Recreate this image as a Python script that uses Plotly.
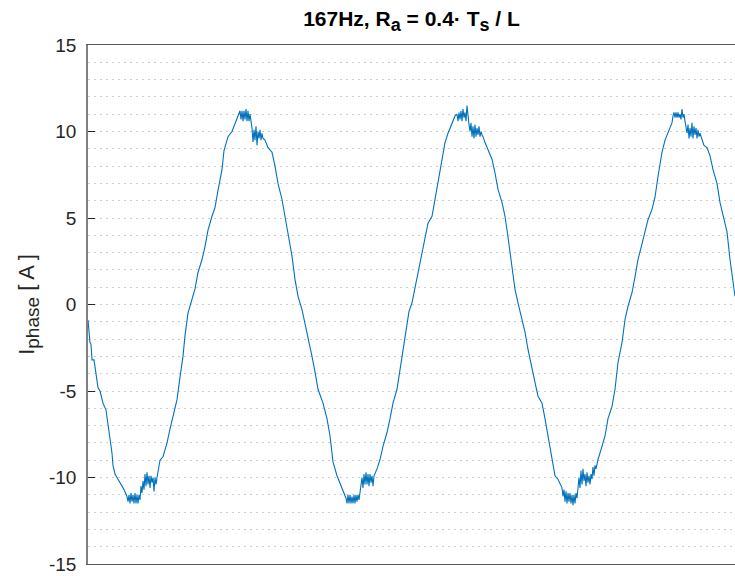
import plotly.graph_objects as go

# Phase current trace, sample index vs. current in amperes
t_samples = [
    0, 1, 2, 3, 4, 6, 8, 10, 12, 15, 18, 20, 22, 24, 25, 27, 30, 33, 36, 39,
    40, 41, 42, 43, 44, 45, 46, 47, 48, 49, 50, 51, 52, 53, 54,
    55, 56, 57, 58, 59, 60, 61, 62, 63, 64, 65, 66, 67, 68, 69,
    72, 75, 79, 82, 85, 89, 92, 95, 97, 100, 103, 107, 110, 114, 117, 120,
    124, 127, 130, 134, 136, 140, 144, 147, 150,
    152, 153, 154, 155, 156, 157, 158, 159, 160, 161, 162,
    163, 164, 165, 166, 167, 168, 169, 170, 171, 172, 173, 174, 175,
    177, 180, 184, 187, 190, 194, 197, 200, 204, 207, 210, 214, 217, 220,
    224, 227, 230, 235, 239, 242, 245, 249, 252, 255,
    258, 259, 260, 261, 262, 263, 264, 265, 266, 267, 268, 269, 270, 271, 272,
    273, 274, 275, 276, 277, 278, 279, 280, 281, 282, 283, 284, 285, 286,
    289, 292, 295, 299, 302, 305, 309, 311, 314, 316, 319, 321, 324, 327,
    330, 334, 337, 340, 344, 347, 350, 354, 357, 360, 364, 367,
    369, 370, 371, 372, 373, 374, 375, 376, 377, 378, 379, 380,
    381, 382, 383, 384, 385, 386, 387, 388, 389, 390, 391, 392, 393, 394, 395,
    397, 400, 404, 407, 410, 414, 417, 420, 424, 427, 430, 434, 437, 440,
    444, 447, 450, 454, 457, 460, 464, 467, 470, 474,
    475, 476, 477, 478, 479, 480, 481, 482, 483, 484, 485, 486, 487, 488, 489,
    490, 491, 492, 493, 494, 495, 496, 497, 498, 499, 500, 501, 502, 503, 504,
    505, 506, 507, 508,
    510, 514, 517, 520, 524, 527, 530, 534, 537, 540, 544, 547, 550, 554,
    557, 560, 564, 567, 570, 574, 577, 580, 584,
    585, 586, 587, 588, 589, 590, 591, 592, 593, 594, 595, 596, 597,
    598, 599, 600, 601, 602, 603, 604, 605, 606, 607, 608, 609, 610, 611, 612,
    614, 616,
    619, 622, 625, 629, 632, 635, 639, 642, 645, 647,
]

i_phase = [
    -0.9, -1.7, -2.2, -2.3, -3.2, -3.2, -3.9, -4.8, -5.0, -5.7, -6.1, -6.9, -7.8, -8.6, -9.3, -9.8, -10.1, -10.4, -10.7, -11.1,
    -11.4, -11.0, -11.5, -10.9, -11.4, -11.0, -11.5, -10.9, -11.5, -11.0, -11.5, -11.0, -11.3, -10.5, -10.9,
    -10.2, -10.7, -9.8, -10.5, -9.7, -10.4, -9.9, -10.6, -9.9, -10.3, -10.0, -10.8, -10.0, -10.4, -10.0,
    -9.0, -8.8, -8.0, -7.2, -6.4, -5.5, -4.2, -3.0, -1.8, -0.5, 0.1, 0.9, 1.85, 2.6, 3.35, 4.3,
    5.1, 5.6, 6.6, 7.8, 8.9, 9.7, 10.0, 10.5, 10.9,
    11.2, 10.7, 11.2, 10.6, 11.2, 10.7, 11.3, 10.6, 11.2, 10.6, 11.0,
    10.6, 10.2, 9.4, 10.1, 9.5, 10.3, 9.2, 10.0, 9.6, 10.1, 9.5, 9.9, 9.6,
    9.5, 9.07, 8.8, 8.0, 7.0, 6.07, 5.1, 4.2, 2.8, 1.45, 0.48, -0.3, -1.06, -1.8,
    -3.0, -3.9, -4.9, -5.7, -6.6, -7.6, -9.1, -9.9, -10.3, -10.7,
    -11.2, -11.5, -11.0, -11.5, -11.0, -11.5, -11.1, -11.5, -11.0, -11.5, -11.0, -11.4, -11.0, -11.3, -10.8,
    -10.5, -10.0, -10.6, -9.8, -10.4, -9.7, -10.4, -9.8, -10.5, -9.8, -10.3, -9.9, -10.5, -9.9,
    -9.5, -8.96, -8.2, -7.4, -6.6, -5.7, -4.9, -4.1, -3.0, -2.1, -0.9, -0.4, 0.1, 1.0,
    1.9, 3.0, 3.9, 4.7, 5.1, 6.07, 7.0, 8.2, 9.36, 9.9, 10.5, 10.9,
    11.0, 10.6, 11.1, 10.7, 11.2, 10.6, 11.3, 10.8, 11.1, 10.6, 11.5, 10.8,
    10.4, 10.0, 10.5, 9.7, 10.3, 9.6, 10.4, 9.7, 10.2, 9.8, 10.3, 9.7, 10.0, 9.8, 9.7,
    9.36, 8.96, 8.4, 7.6, 6.65, 5.9, 5.1, 3.9, 2.2, 0.87, 0.1, -0.87, -1.6, -2.6,
    -3.6, -4.5, -5.3, -5.7, -6.6, -7.6, -9.1, -9.9, -10.1, -10.6,
    -11.1, -10.7, -11.4, -10.8, -11.5, -10.9, -11.4, -10.9, -11.5, -11.0, -11.6, -11.0, -11.5, -10.9, -11.2,
    -10.5, -10.0, -10.6, -9.6, -10.4, -9.5, -10.2, -9.8, -10.5, -9.7, -10.3, -9.9, -10.4, -9.8, -10.1,
    -9.4, -9.9, -9.3, -9.5,
    -8.96, -8.2, -7.6, -6.6, -5.9, -4.9, -3.35, -2.2, -0.87, -0.1, 0.68, 1.6, 2.6, 3.5,
    4.3, 4.9, 5.5, 6.2, 7.4, 8.8, 9.5, 9.9, 10.5,
    10.9, 11.1, 10.8, 11.1, 10.8, 11.1, 10.8, 11.0, 10.7, 11.3, 10.8, 11.0, 10.6,
    10.3, 9.9, 10.4, 9.6, 10.2, 9.7, 10.5, 9.6, 10.3, 9.8, 10.2, 9.6, 10.1, 9.7, 9.9,
    9.5, 9.2,
    9.07, 8.6, 7.8, 7.0, 5.9, 5.1, 4.2, 2.6, 1.3, 0.48,
]

y_tick_values = [-15, -10, -5, 0, 5, 10, 15]
y_tick_labels = ["-15", "-10", "-5", "0", "5", "10", "15"]

FONT = "Liberation Sans, Arial, Helvetica, sans-serif"
AXIS_TEXT = "#262626"
GRID = "#cdcdcd"

title_text = (
    "<b>167Hz, R<sub><span style='font-size:18px'>a</span></sub>"
    " = 0.4· T<sub><span style='font-size:18px'>s</span></sub> / L</b>"
)
ylabel_text = "I<sub><span style='font-size:19px'>phase</span></sub> [ A ]"

fig = go.Figure(
    go.Scatter(
        x=t_samples,
        y=i_phase,
        mode="lines",
        line=dict(color="#0072BD", width=1.1),
        hoverinfo="skip",
    )
)

fig.update_layout(
    width=735,
    height=576,
    margin=dict(l=88, r=0, t=45, b=12),
    paper_bgcolor="white",
    plot_bgcolor="white",
    showlegend=False,
    font=dict(family=FONT, color=AXIS_TEXT),
    title=dict(
        text=title_text,
        font=dict(family=FONT, size=21, color="#000000"),
        x=(88 + 735) / 2 / 735,
        xanchor="center",
        y=1 - 19 / 576,
        yanchor="middle",
    ),
)

fig.update_xaxes(
    range=[0, 647],
    showticklabels=False,
    ticks="",
    showgrid=False,
    zeroline=False,
    showline=True,
    mirror=True,
    linecolor="#595959",
    linewidth=1,
)

fig.update_yaxes(
    range=[-15, 15],
    tickmode="array",
    tickvals=y_tick_values,
    ticktext=y_tick_labels,
    ticks="inside",
    ticklen=7,
    tickwidth=1,
    tickcolor=AXIS_TEXT,
    tickfont=dict(family=FONT, size=19, color=AXIS_TEXT),
    ticklabelstandoff=6,
    showline=True,
    mirror=False,
    linecolor="#808080",
    linewidth=1.5,
    zeroline=False,
    showgrid=True,
    gridcolor=GRID,
    gridwidth=1,
    griddash="1.5px,4.5px",
    minor=dict(
        dtick=1,
        showgrid=True,
        gridcolor=GRID,
        gridwidth=1,
        griddash="1.5px,4.5px",
        ticks="",
    ),
    title=dict(
        text=ylabel_text,
        font=dict(family=FONT, size=22, color=AXIS_TEXT),
        standoff=8,
    ),
)

fig.write_html("out.html")
